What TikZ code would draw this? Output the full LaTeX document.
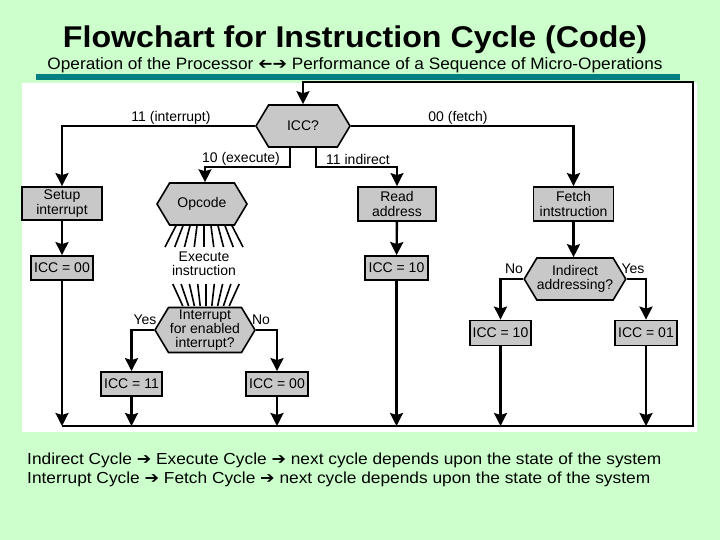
\documentclass[tikz,border=0pt]{standalone}
\usepackage{graphicx}
\usepackage{fontspec}
\setmainfont{Liberation Sans}
\newfontfamily\dejavu{DejaVu Sans}
\usetikzlibrary{arrows.meta,shapes.symbols}
\definecolor{bggreen}{RGB}{204,255,204}
\definecolor{tealbar}{RGB}{0,128,128}
\definecolor{boxgray}{RGB}{200,200,200}
\newcommand\rarr{{\dejavu ➔}}
\newcommand\larr{{\dejavu\scalebox{-1}[1]{➔}}}
\begin{document}
\begin{tikzpicture}[x=1pt,y=-1pt,
  box/.style={draw, line width=1.8pt, fill=boxgray, font=\fontsize{14}{14.5}\selectfont, align=center, inner sep=0pt},
  hexa/.style={draw, line width=1.6pt, fill=boxgray, signal, signal to=east and west, signal pointer angle=118, font=\fontsize{14}{14.5}\selectfont, align=center, inner sep=0pt},
  conn/.style={line width=2.4pt, -{Stealth[length=13pt,width=13pt,inset=2pt]}},
  thinconn/.style={line width=1.6pt, -{Stealth[length=13pt,width=13pt,inset=2pt]}},
  lbl/.style={font=\fontsize{14}{14.5}\selectfont, inner sep=0pt},
  ray/.style={line width=1.6pt}
]
\useasboundingbox (0,0) rectangle (720,540);
\fill[bggreen] (0,0) rectangle (720,540);
\fill[white] (22,83) rectangle (697,432);
\fill[tealbar] (36,74) rectangle (680,80);
% titles
\node (title) at (355,40) {\resizebox{584pt}{\height}{\fontsize{30}{30}\selectfont\bfseries Flowchart for Instruction Cycle (Code)}};
\node (sub) at (355,65) {\resizebox{615pt}{\height}{\fontsize{16.5}{18}\selectfont Operation of the Processor \larr\rarr{} Performance of a Sequence of Micro-Operations}};
\node[anchor=west, inner sep=0pt] (l1) at (27,460) {\resizebox{634pt}{\height}{\fontsize{16}{18}\selectfont Indirect Cycle \rarr{} Execute Cycle \rarr{} next cycle depends upon the state of the system}};
\node[anchor=west, inner sep=0pt] (l2) at (27,479) {\resizebox{623pt}{\height}{\fontsize{16}{18}\selectfont Interrupt Cycle \rarr{} Fetch Cycle \rarr{} next cycle depends upon the state of the system}};
% nodes
\node[hexa, minimum width=94pt, minimum height=42pt] (icc) at (303,126) {ICC?};
\node[box, minimum width=80pt, minimum height=33pt] (setup) at (62,203.5) {Setup\\interrupt};
\node[hexa, minimum width=90pt, minimum height=42pt] (opcode) at (202,204) {Opcode};
\node[box, minimum width=78pt, minimum height=34pt] (read) at (397,204) {Read\\address};
\node[box, minimum width=80pt, minimum height=34pt] (fetch) at (573.5,204) {Fetch\\intstruction};
\node[box, minimum width=62pt, minimum height=24pt] (iccA) at (62,268) {ICC = 00};
\node[box, minimum width=63pt, minimum height=24pt] (iccB) at (396.5,268) {ICC = 10};
\node[hexa, minimum width=94pt, minimum height=42pt] (indir) at (575,279) {Indirect\\addressing?};
\node[box, minimum width=61pt, minimum height=25pt] (iccC) at (500.5,333) {ICC = 10};
\node[box, minimum width=62pt, minimum height=25pt] (iccD) at (646,333) {ICC = 01};
\node[lbl, align=center] (exec) at (204,264) {Execute\\instruction};
\node[hexa, minimum width=100pt, minimum height=45pt, font=\fontsize{14}{14}\selectfont] (intr) at (205,330) {Interrupt\\for enabled\\interrupt?};
\node[box, minimum width=61pt, minimum height=24pt] (icc11) at (131.5,384) {ICC = 11};
\node[box, minimum width=62pt, minimum height=24pt] (icc00) at (277,384) {ICC = 00};
% rays
\foreach \i in {-4,...,4} \draw[ray] ({204+\i*6.9},225) -- ({204+\i*9.75},247);
\foreach \i in {-4,...,4} \draw[ray] ({206+\i*8.3},284) -- ({206+\i*5.8},306);
% helper coordinates
\coordinate (bl) at (62,426);
\coordinate (br) at (693,426);
\coordinate (tr) at (693,82);
\coordinate (j1) at (205,167);
\coordinate (j2) at (397,167);
% connectors
\draw[conn] (icc.west) -| (setup.north);
\draw[conn] (icc.east) -| (fetch.north);
\draw[thinconn] ([xshift=-13pt]icc.south) |- (j1) -- (j1 |- opcode.north);
\draw[thinconn] ([xshift=13pt]icc.south) |- (j2) -- (read.north);
\draw[conn] (setup) -- (iccA);
\draw[conn] (read) -- (iccB);
\draw[conn] (fetch.south) -- (fetch.south |- indir.north);
\draw[conn] (indir.west) -| (iccC.north);
\draw[conn] (indir.east) -| (iccD.north);
\draw[conn] (intr.west) -| (icc11.north);
\draw[conn] (intr.east) -| (icc00.north);
\draw[conn] (iccA.south) -- (iccA.south |- bl);
\draw[conn] (iccB.south) -- (iccB.south |- bl);
\draw[conn] (iccC.south) -- (iccC.south |- bl);
\draw[conn] (iccD.south) -- (iccD.south |- bl);
\draw[conn] (icc11.south) -- (icc11.south |- bl);
\draw[conn] (icc00.south) -- (icc00.south |- bl);
\draw[conn] (bl) -- (br) -- (tr) -| (icc.north);
% labels
\node[lbl] (t1) at (171,118) {11 (interrupt)};
\node[lbl] (t2) at (458,118) {00 (fetch)};
\node[lbl] (t3) at (241,159) {10 (execute)};
\node[lbl] (t4) at (358,159) {11 indirect};
\node[lbl] (t5) at (514,269) {No};
\node[lbl] (t6) at (633,269) {Yes};
\node[lbl] (t7) at (145,320) {Yes};
\node[lbl] (t8) at (261,320) {No};
\end{tikzpicture}
\end{document}
